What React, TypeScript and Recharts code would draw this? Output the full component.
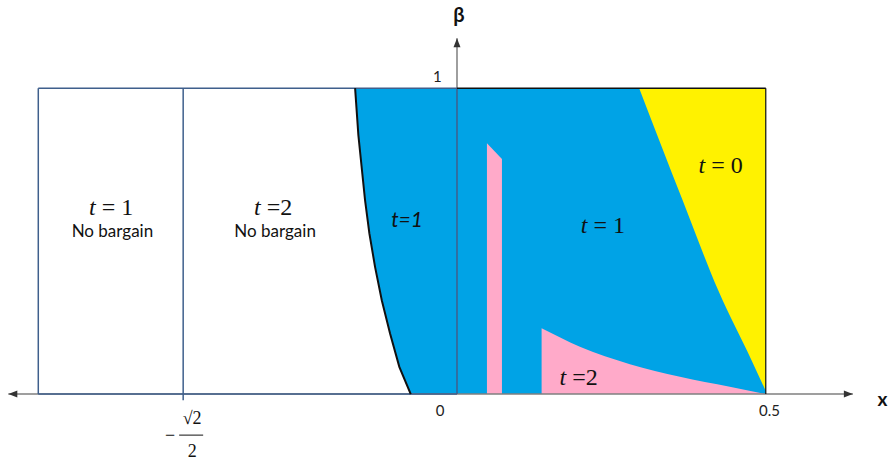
import React from 'react';
import {
    ComposedChart,
    XAxis,
    YAxis,
    Area,
    Line,
    ReferenceLine,
    ReferenceDot,
} from 'recharts';

const WIDTH = 893;
const HEIGHT = 470;

const X_DOMAIN = [-0.74, 0.706];
const Y_DOMAIN = [-0.248, 1.288];

// schematic x positions used in the drawing
const BOX_LEFT = -0.678;
const NO_BARGAIN_SPLIT = -0.4434; // drawn position of -sqrt(2)/2
const X_END = 0.5;
const AXIS_LEFT = -0.7265;
const AXIS_RIGHT = 0.641;
const AXIS_TOP = 1.163;

// left frontier of the t=1 region (black curve)
const frontierX = [-0.165, -0.1597, -0.1489, -0.1419, -0.1327, -0.1218, -0.1084, -0.0934, -0.0749];
const frontierY = [1, 0.846, 0.634, 0.525, 0.416, 0.307, 0.198, 0.089, 0];

// lower edge of the t=0 region
const yellowX = [0.295, 0.3652, 0.4228, 0.4769, 0.5];
const yellowY = [1, 0.634, 0.34, 0.111, 0.01];

// thin t=2 strip
const stripX = [0.0485, 0.0728];
const stripTop = [0.82, 0.768];

// lower t=2 region
const pinkX = [0.137, 0.199, 0.28, 0.361, 0.4417, 0.5];
const pinkY = [0.215, 0.155, 0.098, 0.0565, 0.024, 0];

const blueData = [
    ...frontierX.map((x, i) => ({ x, band: [frontierY[i], 1] })),
    { x: X_END, band: [0, 1] },
];
const frontierData = frontierX.map((x, i) => ({ x, y: frontierY[i] }));
const yellowData = yellowX.map((x, i) => ({ x, band: [yellowY[i], 1] }));
const stripData = stripX.map((x, i) => ({ x, band: [0, stripTop[i]] }));
const pinkData = pinkX.map((x, i) => ({ x, band: [0, pinkY[i]] }));

const BLUE = '#00a3e6';
const YELLOW = '#fff200';
const PINK = '#ffaac9';
const FRAME = '#3f5f8c';
const AXIS = '#7f7f7f';

const SERIF = "'Liberation Serif', 'DejaVu Serif', serif";
const SANS = "Lato, 'Open Sans', sans-serif";

const textMark = (
    key: string,
    x: number,
    y: number,
    content: React.ReactNode,
    style: { size?: number; family?: string; weight?: number | string; italic?: boolean; color?: string } = {}
) => (
    <ReferenceDot
        key={key}
        x={x}
        y={y}
        r={0}
        shape={(p: any) => (
            <text
                x={p.cx}
                y={p.cy}
                textAnchor="middle"
                dominantBaseline="central"
                fontSize={style.size ?? 20}
                fontFamily={style.family ?? SERIF}
                fontWeight={style.weight ?? 'normal'}
                fontStyle={style.italic ? 'italic' : 'normal'}
                fill={style.color ?? '#111'}
            >
                {content}
            </text>
        )}
    />
);

const mathT = (rest: string) => (
    <>
        <tspan fontStyle="italic">t</tspan>
        <tspan>{rest}</tspan>
    </>
);

const arrowMark = (key: string, x: number, y: number, dir: 'left' | 'right' | 'up') => (
    <ReferenceDot
        key={key}
        x={x}
        y={y}
        r={0}
        shape={(p: any) => {
            const { cx, cy } = p;
            let pts = '';
            if (dir === 'left') pts = `${cx},${cy} ${cx + 9},${cy - 3.5} ${cx + 9},${cy + 3.5}`;
            if (dir === 'right') pts = `${cx},${cy} ${cx - 9},${cy - 3.5} ${cx - 9},${cy + 3.5}`;
            if (dir === 'up') pts = `${cx},${cy} ${cx - 3.5},${cy + 9} ${cx + 3.5},${cy + 9}`;
            return <polygon points={pts} fill="#333" />;
        }}
    />
);

const App: React.FC = () => {
    return (
        <div style={{ position: 'absolute', left: 0, top: 0, background: '#fff' }}>
            <ComposedChart width={WIDTH} height={HEIGHT} margin={{ top: 0, right: 0, bottom: 0, left: 0 }}>
                <XAxis type="number" dataKey="x" domain={X_DOMAIN} allowDataOverflow hide />
                <YAxis type="number" domain={Y_DOMAIN} allowDataOverflow hide />

                <Area data={blueData} dataKey="band" type="linear" fill={BLUE} fillOpacity={1} stroke="none" dot={false} activeDot={false} isAnimationActive={false} />
                <Area data={yellowData} dataKey="band" type="monotone" fill={YELLOW} fillOpacity={1} stroke="none" dot={false} activeDot={false} isAnimationActive={false} />
                <Area data={stripData} dataKey="band" type="linear" fill={PINK} fillOpacity={1} stroke="none" dot={false} activeDot={false} isAnimationActive={false} />
                <Area data={pinkData} dataKey="band" type="monotone" fill={PINK} fillOpacity={1} stroke="none" dot={false} activeDot={false} isAnimationActive={false} />

                {/* axes */}
                <ReferenceLine segment={[{ x: AXIS_LEFT, y: 0 }, { x: AXIS_RIGHT, y: 0 }]} stroke={AXIS} strokeWidth={1.5} />
                <ReferenceLine segment={[{ x: 0, y: 1 }, { x: 0, y: AXIS_TOP }]} stroke={AXIS} strokeWidth={1.5} />
                {arrowMark('al', AXIS_LEFT, 0, 'left')}
                {arrowMark('ar', AXIS_RIGHT, 0, 'right')}
                {arrowMark('au', 0, AXIS_TOP, 'up')}

                {/* region frame */}
                <ReferenceLine segment={[{ x: BOX_LEFT, y: 0 }, { x: BOX_LEFT, y: 1 }]} stroke={FRAME} strokeWidth={1.5} />
                <ReferenceLine segment={[{ x: BOX_LEFT, y: 1 }, { x: 0, y: 1 }]} stroke={FRAME} strokeWidth={1.5} />
                <ReferenceLine segment={[{ x: BOX_LEFT, y: 0 }, { x: 0, y: 0 }]} stroke={FRAME} strokeWidth={1.5} />
                <ReferenceLine segment={[{ x: NO_BARGAIN_SPLIT, y: -0.02 }, { x: NO_BARGAIN_SPLIT, y: 1 }]} stroke={FRAME} strokeWidth={1.5} />
                <ReferenceLine segment={[{ x: 0, y: 0 }, { x: 0, y: 1 }]} stroke={FRAME} strokeWidth={1.5} />
                <ReferenceLine segment={[{ x: 0, y: 1 }, { x: X_END, y: 1 }]} stroke="#111" strokeWidth={1.5} />
                <ReferenceLine segment={[{ x: X_END, y: 0 }, { x: X_END, y: 1 }]} stroke="#111" strokeWidth={1.2} />

                <Line data={frontierData} dataKey="y" type="linear" stroke="#111" strokeWidth={2} dot={false} activeDot={false} isAnimationActive={false} />

                {/* region labels */}
                {textMark('l1', -0.56, 0.611, mathT(' = 1'), { size: 24 })}
                {textMark('l1b', -0.558, 0.536, 'No bargain', { size: 17, family: SANS })}
                {textMark('l2', -0.2977, 0.611, mathT(' =2'), { size: 24 })}
                {textMark('l2b', -0.2945, 0.536, 'No bargain', { size: 17, family: SANS })}
                {textMark('b1', -0.0809, 0.575, 't=1', { size: 21, family: SANS, italic: true })}
                {textMark('m1', 0.2362, 0.552, mathT(' = 1'), { size: 24 })}
                {textMark('y0', 0.427, 0.748, mathT(' = 0'), { size: 24 })}
                {textMark('p2', 0.197, 0.0556, mathT(' =2'), { size: 24 })}

                {/* tick and axis labels */}
                {textMark('t0', -0.0275, -0.052, '0', { size: 15, family: SANS, color: '#222' })}
                {textMark('t05', 0.506, -0.052, '0.5', { size: 15, family: SANS, color: '#222' })}
                {textMark('t1', -0.032, 1.039, '1', { size: 15, family: SANS, color: '#222' })}
                {textMark('beta', 0.003, 1.242, 'β', { size: 20, family: SANS, weight: 700 })}
                {textMark('xl', 0.689, -0.013, 'x', { size: 19, family: SANS, weight: 700 })}
                <ReferenceDot
                    x={NO_BARGAIN_SPLIT}
                    y={0}
                    r={0}
                    shape={(p: any) => (
                        <g fontFamily={SERIF} fontSize={18} fill="#111" textAnchor="middle" dominantBaseline="central">
                            <text x={p.cx - 13} y={p.cy + 41}>−</text>
                            <text x={p.cx + 9} y={p.cy + 24}>√2</text>
                            <line x1={p.cx - 4} x2={p.cx + 20} y1={p.cy + 41} y2={p.cy + 41} stroke="#111" strokeWidth={1} />
                            <text x={p.cx + 9} y={p.cy + 57}>2</text>
                        </g>
                    )}
                />
            </ComposedChart>
        </div>
    );
};

export default App;
